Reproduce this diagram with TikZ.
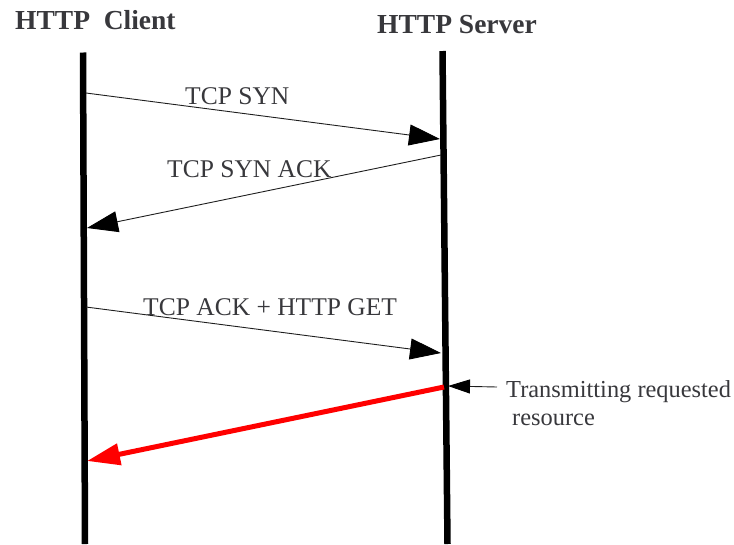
\documentclass[tikz,border=0pt]{standalone}
\usepackage{fontspec}
\setmainfont{Liberation Serif}
\usetikzlibrary{arrows.meta}
\definecolor{ink}{RGB}{56,56,60}
\definecolor{msgline}{RGB}{30,30,30}
\definecolor{hot}{RGB}{255,0,0}
\tikzset{
  lifeline/.style={line width=6.5pt, black},
  msg/.style={draw=msgline, line width=0.9pt, -{Triangle[length=31pt,width=21pt,color=black,fill=black]}},
  reply/.style={draw=hot, line width=5pt, -{Triangle[length=33pt,width=21pt,color=hot,fill=hot]}},
  note/.style={draw=msgline, line width=0.9pt, -{Triangle[length=22pt,width=14pt,color=black,fill=black]}},
  head/.style={font=\fontsize{27.5}{32}\selectfont\bfseries, text=ink, inner sep=0pt, anchor=base west},
  lbl/.style={font=\fontsize{25.5}{30}\selectfont, text=ink, inner sep=0pt},
}
\begin{document}
\begin{tikzpicture}[x=1pt,y=-1pt]
\useasboundingbox (0,0) rectangle (734,544);

% lifelines
\coordinate (ctop) at (83,52.5);
\coordinate (cbot) at (85,544);
\coordinate (stop) at (442.5,51);
\coordinate (sbot) at (447.5,544);
\draw[lifeline] (ctop) -- (cbot);
\draw[lifeline] (stop) -- (sbot);

% headings
\node[head] (hclient) at (15,29) {HTTP\ \ Client};
\node[head] (hserver) at (377,33) {HTTP Server};

% message end points
\coordinate (syn1) at (86,93);
\coordinate (syn2) at (440,139);
\coordinate (ack1) at (441,155);
\coordinate (ack2) at (87,228);
\coordinate (get1) at (86,307);
\coordinate (get2) at (441,353);
\coordinate (res1) at (444,387);
\coordinate (res2) at (87,461);
\coordinate (note1) at (497,387);
\coordinate (note2) at (448,386);

% messages
\draw[msg] (syn1) -- (syn2);
\draw[msg] (ack1) -- (ack2);
\draw[msg] (get1) -- (get2);
\draw[reply] (res1) -- (res2);
\draw[note] (note1) -- (note2);

% labels
\node[lbl, anchor=base west] (tsyn) at (185,104) {TCP SYN};
\node[lbl, anchor=base west] (tsynack) at (167,177) {TCP SYN ACK};
\node[lbl, anchor=base west] (tget) at (143,315) {TCP ACK + HTTP GET};
\node[lbl, anchor=base west, font=\fontsize{24.4}{30}\selectfont] (tnote1) at (506,397) {Transmitting requested};
\node[lbl, anchor=base west, font=\fontsize{24.4}{30}\selectfont] (tnote2) at (512,425) {resource};
\end{tikzpicture}
\end{document}
